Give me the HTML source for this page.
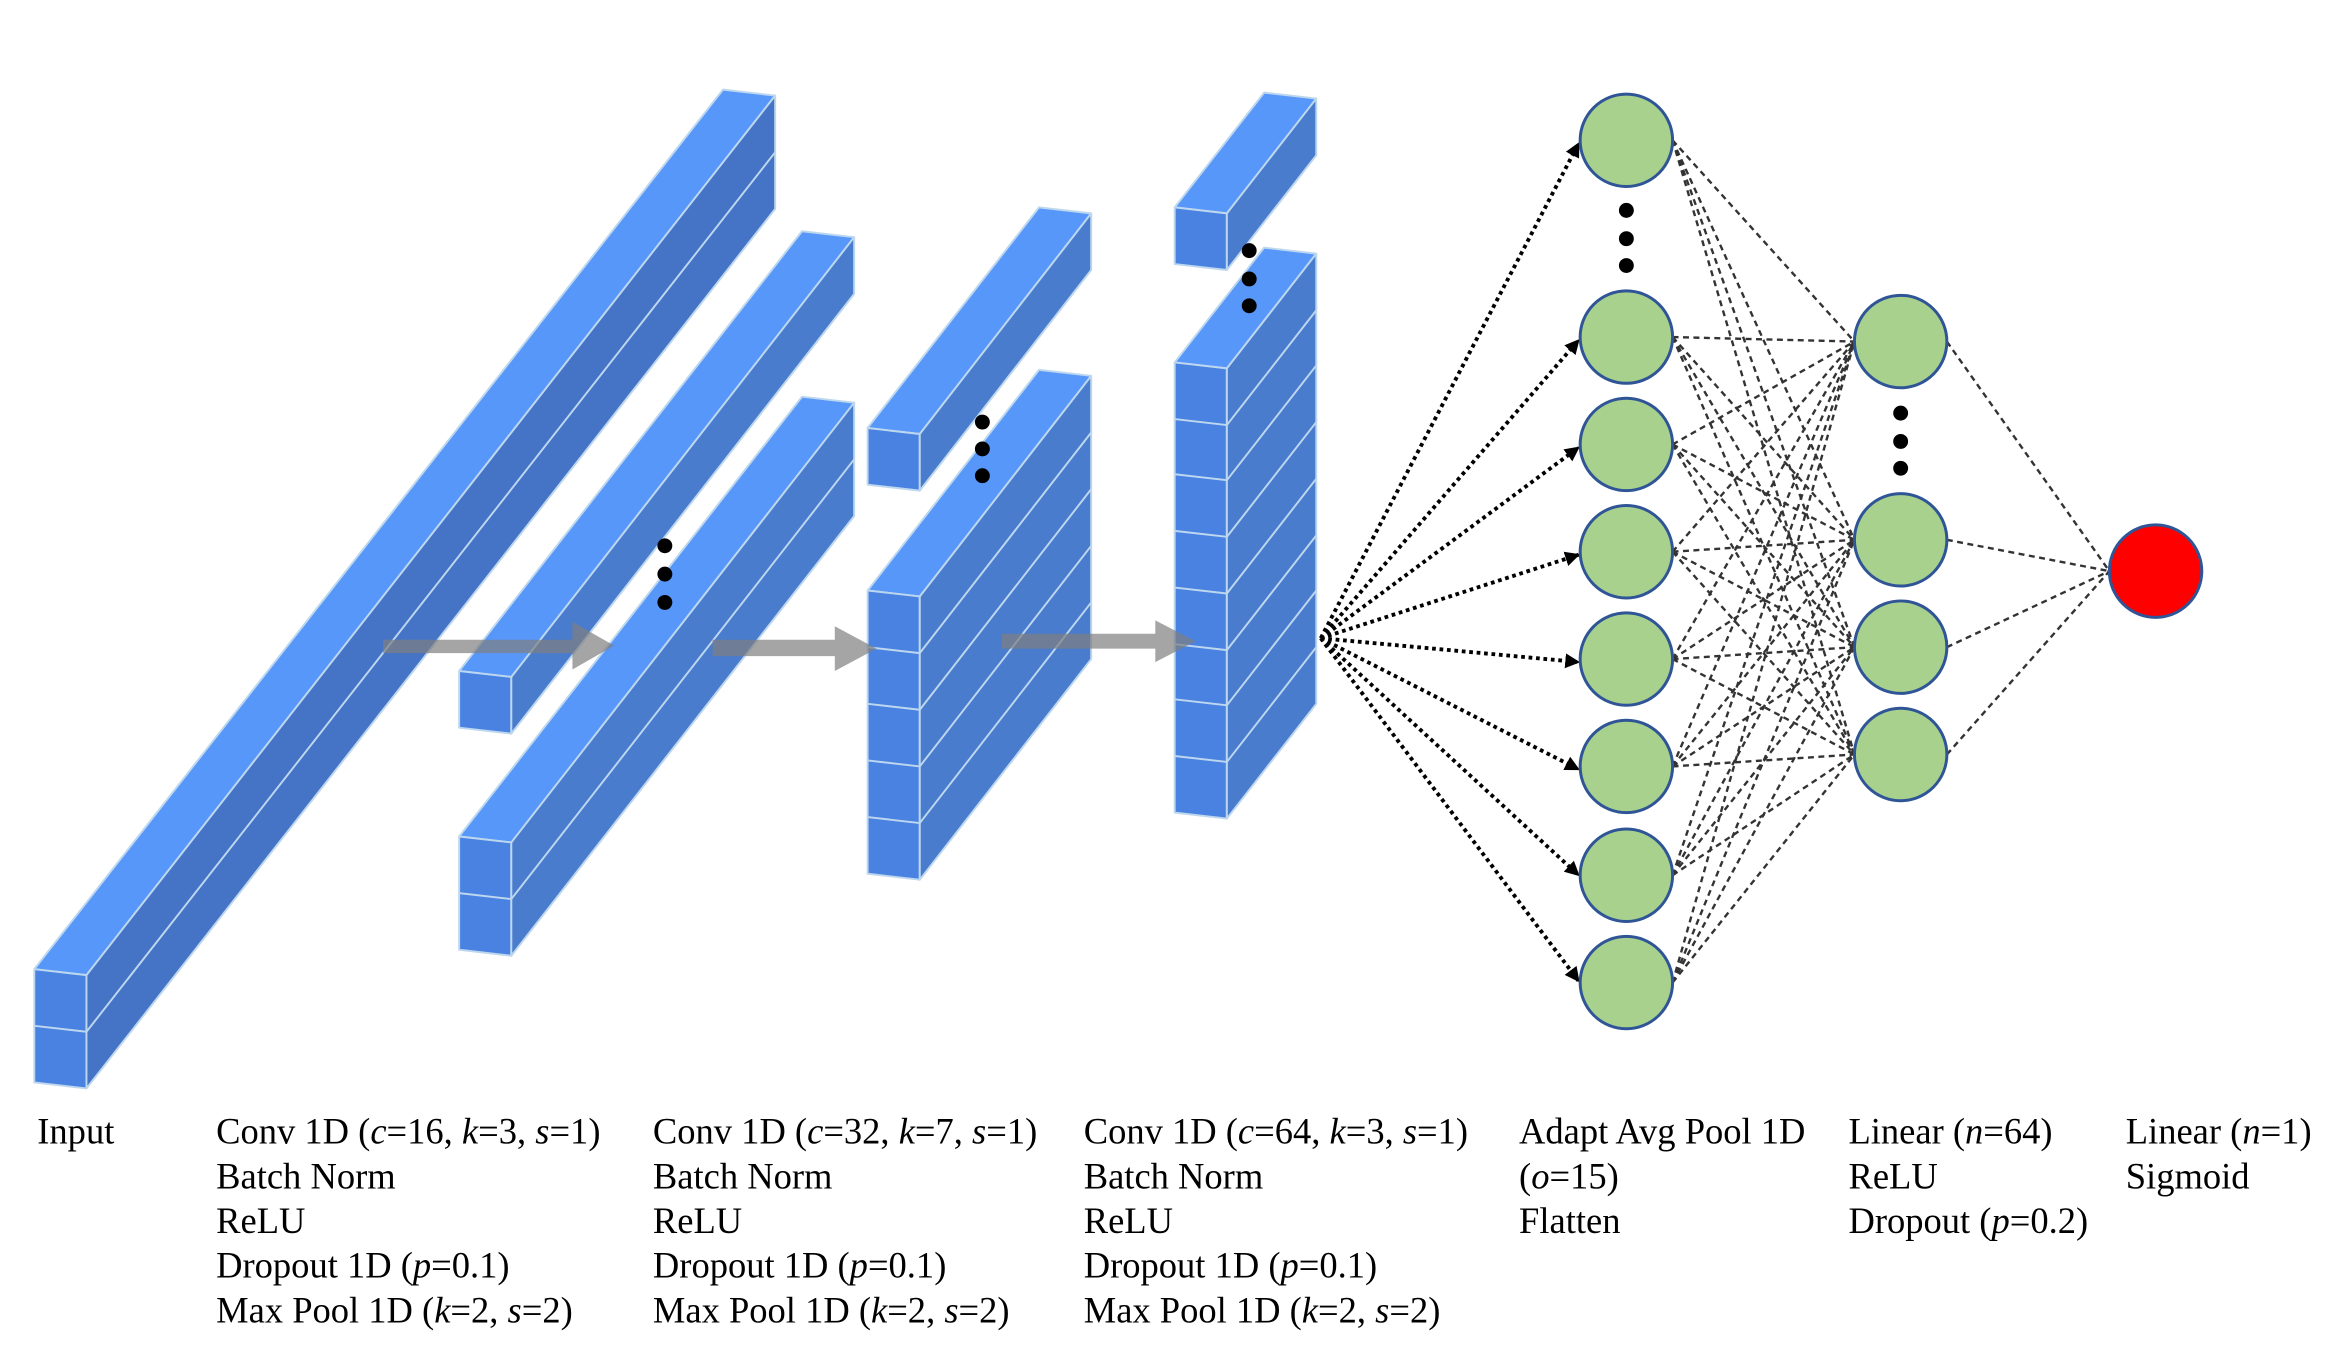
<!DOCTYPE html>
<html><head><meta charset="utf-8"><style>
html,body{margin:0;padding:0;background:#fff;}
svg{display:block;}
text{font-family:"Liberation Serif",serif;font-size:24.5px;fill:#000;}
</style></head><body>
<svg width="2327" height="1345" viewBox="0 0 1561 902" xmlns="http://www.w3.org/2000/svg">
<defs>
<marker id="ah" markerWidth="10" markerHeight="10" refX="9" refY="5" orient="auto" markerUnits="userSpaceOnUse"><path d="M0,0 L10,5 L0,10 z" fill="#000"/></marker>
</defs>
<g stroke="#BDD7EE" stroke-width="1.3" stroke-linejoin="round">
<polygon points="23,650 58,654 520,64 485,60" fill="#5797FA"/>
<polygon points="23,650 58,654 58,730 23,726" fill="#4A82E2"/>
<polygon points="58,654 520,64 520,140 58,730" fill="#4574C6"/>
<polyline points="23,688 58,692 520,102" fill="none"/>
<polygon points="308,450 343,454 573,159 538,155" fill="#5797FA"/>
<polygon points="308,450 343,454 343,492 308,488" fill="#4A82E2"/>
<polygon points="343,454 573,159 573,197 343,492" fill="#4A7CCE"/>
<polygon points="308,561 343,565 573,270 538,266" fill="#5797FA"/>
<polygon points="308,561 343,565 343,641 308,637" fill="#4A82E2"/>
<polygon points="343,565 573,270 573,346 343,641" fill="#4A7CCE"/>
<polyline points="308,599 343,603 573,308" fill="none"/>
<polygon points="582,287 617,291 732,143 697,139" fill="#5797FA"/>
<polygon points="582,287 617,291 617,329 582,325" fill="#4A82E2"/>
<polygon points="617,291 732,143 732,181 617,329" fill="#4A7CCE"/>
<polygon points="582,396 617,400 732,252 697,248" fill="#5797FA"/>
<polygon points="582,396 617,400 617,590 582,586" fill="#4A82E2"/>
<polygon points="617,400 732,252 732,442 617,590" fill="#4A7CCE"/>
<polyline points="582,434 617,438 732,290" fill="none"/>
<polyline points="582,472 617,476 732,328" fill="none"/>
<polyline points="582,510 617,514 732,366" fill="none"/>
<polyline points="582,548 617,552 732,404" fill="none"/>
<polygon points="788,139 823,143 883,66 848,62" fill="#5797FA"/>
<polygon points="788,139 823,143 823,181 788,177" fill="#4A82E2"/>
<polygon points="823,143 883,66 883,104 823,181" fill="#4A7CCE"/>
<polygon points="788,243 823,247 883,170 848,166" fill="#5797FA"/>
<polygon points="788,243 823,247 823,549 788,545" fill="#4A82E2"/>
<polygon points="823,247 883,170 883,472 823,549" fill="#4A7CCE"/>
<polyline points="788,281 823,285 883,208" fill="none"/>
<polyline points="788,318 823,322 883,245" fill="none"/>
<polyline points="788,356 823,360 883,283" fill="none"/>
<polyline points="788,394 823,398 883,321" fill="none"/>
<polyline points="788,432 823,436 883,359" fill="none"/>
<polyline points="788,469 823,473 883,396" fill="none"/>
<polyline points="788,507 823,511 883,434" fill="none"/>
</g>
<g fill="#7f7f7f" fill-opacity="0.7">
<polygon points="257,429 384,429 384,417 412,433 384,449 384,438 257,438"/>
<polygon points="478,429 560,429 560,420 588,435 560,450 560,440 478,440"/>
<polygon points="672,425 775,425 775,416 802,430 775,444 775,435 672,435"/>
</g>
<g fill="#000">
<circle cx="446" cy="366" r="5"/><circle cx="446" cy="385" r="5"/><circle cx="446" cy="404" r="5"/>
<circle cx="659" cy="283" r="5"/><circle cx="659" cy="301" r="5"/><circle cx="659" cy="319" r="5"/>
<circle cx="838" cy="168" r="5"/><circle cx="838" cy="187" r="5"/><circle cx="838" cy="205" r="5"/>
<circle cx="1091" cy="141" r="5"/><circle cx="1091" cy="160" r="5"/><circle cx="1091" cy="178" r="5"/>
<circle cx="1275" cy="277" r="5"/><circle cx="1275" cy="296" r="5"/><circle cx="1275" cy="314" r="5"/>
</g>
<g stroke="#000" stroke-width="2.6" stroke-dasharray="2.5,2.5" fill="none" marker-end="url(#ah)">
<line x1="886" y1="428" x2="1059" y2="96"/>
<line x1="886" y1="428" x2="1059" y2="228"/>
<line x1="886" y1="428" x2="1059" y2="300"/>
<line x1="886" y1="428" x2="1059" y2="372"/>
<line x1="886" y1="428" x2="1059" y2="444"/>
<line x1="886" y1="428" x2="1059" y2="516"/>
<line x1="886" y1="428" x2="1059" y2="587"/>
<line x1="886" y1="428" x2="1059" y2="658"/>
</g>
<g stroke="#333" stroke-width="1.6" stroke-dasharray="4,3" fill="none">
<line x1="1122" y1="94" x2="1244" y2="229"/><line x1="1122" y1="94" x2="1244" y2="362"/><line x1="1122" y1="94" x2="1244" y2="434"/><line x1="1122" y1="94" x2="1244" y2="506"/>
<line x1="1122" y1="226" x2="1244" y2="229"/><line x1="1122" y1="226" x2="1244" y2="362"/><line x1="1122" y1="226" x2="1244" y2="434"/><line x1="1122" y1="226" x2="1244" y2="506"/>
<line x1="1122" y1="298" x2="1244" y2="229"/><line x1="1122" y1="298" x2="1244" y2="362"/><line x1="1122" y1="298" x2="1244" y2="434"/><line x1="1122" y1="298" x2="1244" y2="506"/>
<line x1="1122" y1="370" x2="1244" y2="229"/><line x1="1122" y1="370" x2="1244" y2="362"/><line x1="1122" y1="370" x2="1244" y2="434"/><line x1="1122" y1="370" x2="1244" y2="506"/>
<line x1="1122" y1="442" x2="1244" y2="229"/><line x1="1122" y1="442" x2="1244" y2="362"/><line x1="1122" y1="442" x2="1244" y2="434"/><line x1="1122" y1="442" x2="1244" y2="506"/>
<line x1="1122" y1="514" x2="1244" y2="229"/><line x1="1122" y1="514" x2="1244" y2="362"/><line x1="1122" y1="514" x2="1244" y2="434"/><line x1="1122" y1="514" x2="1244" y2="506"/>
<line x1="1122" y1="587" x2="1244" y2="229"/><line x1="1122" y1="587" x2="1244" y2="362"/><line x1="1122" y1="587" x2="1244" y2="434"/><line x1="1122" y1="587" x2="1244" y2="506"/>
<line x1="1122" y1="659" x2="1244" y2="229"/><line x1="1122" y1="659" x2="1244" y2="362"/><line x1="1122" y1="659" x2="1244" y2="434"/><line x1="1122" y1="659" x2="1244" y2="506"/>
<line x1="1306" y1="229" x2="1415" y2="383"/><line x1="1306" y1="362" x2="1415" y2="383"/><line x1="1306" y1="434" x2="1415" y2="383"/><line x1="1306" y1="506" x2="1415" y2="383"/>
</g>
<g stroke="#2F5597" stroke-width="2" fill="#A9D18E">
<circle cx="1091" cy="94" r="31"/><circle cx="1091" cy="226" r="31"/><circle cx="1091" cy="298" r="31"/><circle cx="1091" cy="370" r="31"/>
<circle cx="1091" cy="442" r="31"/><circle cx="1091" cy="514" r="31"/><circle cx="1091" cy="587" r="31"/><circle cx="1091" cy="659" r="31"/>
<circle cx="1275" cy="229" r="31"/><circle cx="1275" cy="362" r="31"/><circle cx="1275" cy="434" r="31"/><circle cx="1275" cy="506" r="31"/>
<circle cx="1446" cy="383" r="31" fill="#FF0000"/>
</g>
<text x="25" y="767">Input</text>
<text x="145" y="767">Conv 1D (<tspan font-style="italic">c</tspan>=16, <tspan font-style="italic">k</tspan>=3, <tspan font-style="italic">s</tspan>=1)</text>
<text x="145" y="797">Batch Norm</text>
<text x="145" y="827">ReLU</text>
<text x="145" y="857">Dropout 1D (<tspan font-style="italic">p</tspan>=0.1)</text>
<text x="145" y="887">Max Pool 1D (<tspan font-style="italic">k</tspan>=2, <tspan font-style="italic">s</tspan>=2)</text>
<text x="438" y="767">Conv 1D (<tspan font-style="italic">c</tspan>=32, <tspan font-style="italic">k</tspan>=7, <tspan font-style="italic">s</tspan>=1)</text>
<text x="438" y="797">Batch Norm</text>
<text x="438" y="827">ReLU</text>
<text x="438" y="857">Dropout 1D (<tspan font-style="italic">p</tspan>=0.1)</text>
<text x="438" y="887">Max Pool 1D (<tspan font-style="italic">k</tspan>=2, <tspan font-style="italic">s</tspan>=2)</text>
<text x="727" y="767">Conv 1D (<tspan font-style="italic">c</tspan>=64, <tspan font-style="italic">k</tspan>=3, <tspan font-style="italic">s</tspan>=1)</text>
<text x="727" y="797">Batch Norm</text>
<text x="727" y="827">ReLU</text>
<text x="727" y="857">Dropout 1D (<tspan font-style="italic">p</tspan>=0.1)</text>
<text x="727" y="887">Max Pool 1D (<tspan font-style="italic">k</tspan>=2, <tspan font-style="italic">s</tspan>=2)</text>
<text x="1019" y="767">Adapt Avg Pool 1D</text>
<text x="1019" y="797">(<tspan font-style="italic">o</tspan>=15)</text>
<text x="1019" y="827">Flatten</text>
<text x="1240" y="767">Linear (<tspan font-style="italic">n</tspan>=64)</text>
<text x="1240" y="797">ReLU</text>
<text x="1240" y="827">Dropout (<tspan font-style="italic">p</tspan>=0.2)</text>
<text x="1426" y="767">Linear (<tspan font-style="italic">n</tspan>=1)</text>
<text x="1426" y="797">Sigmoid</text>
</svg>
</body></html>
